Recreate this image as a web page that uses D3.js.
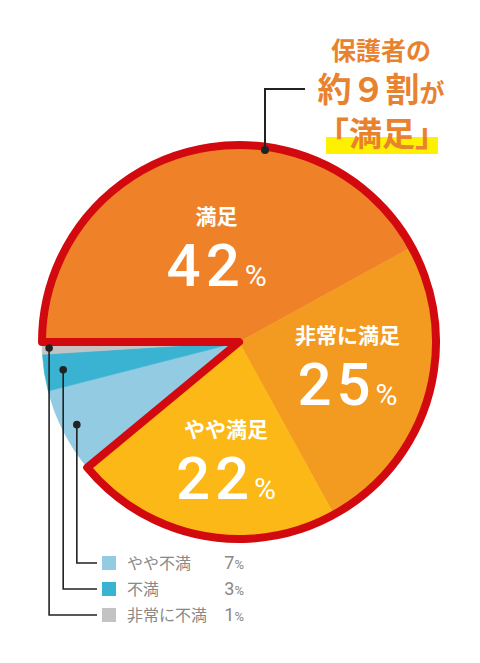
<!DOCTYPE html>
<html lang="ja">
<head>
<meta charset="utf-8">
<script src="https://cdn.jsdelivr.net/npm/d3@7"></script>
<style>
  html, body { margin: 0; padding: 0; background: #fff; }
  svg { display: block; }
  text { font-family: "Noto Sans CJK JP", sans-serif; }
</style>
</head>
<body>
<div id="chart"></div>
<script>
// Step 1: Data
// =================================
var categories = ["満足", "非常に満足", "やや満足", "やや不満", "不満", "非常に不満"];
var values     = [42, 25, 22, 7, 3, 1];
var colors     = ["#ef8228", "#f39a21", "#fbb816", "#93cbe3", "#3ab2d2", "#c3c3c3"];
var titleLines = ["保護者の", "約９割", "が", "「満足」"];
var satisfiedCount = 3;   // first three slices get the red outline

// Step 2: Layout
// =================================
var svgWidth  = 480;
var svgHeight = 663;
var cx = 239, cy = 342, radius = 197;
var labelR     = [90, 113, 128];  // label distance for the big slices
var labelShift = [0, 0, 11];      // small x nudge, as in the original
var leaderR    = [182, 178, 190]; // dot distance for the small slices

var data = categories.map(function(c, i) {
  return { name: c, value: values[i] };
});

var svg = d3.select("#chart")
  .append("svg")
  .attr("width", svgWidth)
  .attr("height", svgHeight);

var color = d3.scaleOrdinal()
  .domain(categories)
  .range(colors);

var pie = d3.pie()
  .sort(null)
  .value(d => d.value)
  .startAngle(-Math.PI / 2)
  .endAngle(Math.PI * 1.5);

var arcs = pie(data);
var arc = d3.arc().innerRadius(0).outerRadius(radius);

var chart = svg.append("g")
  .attr("transform", `translate(${cx}, ${cy})`);

// Step 3: Slices
// =================================
chart.append("g")
  .selectAll("path")
  .data(arcs)
  .enter().append("path")
  .attr("d", arc)
  .attr("fill", d => color(d.data.name))
  .attr("stroke", d => color(d.data.name))
  .attr("stroke-width", 0.6);

// red outline round the "satisfied" part
chart.append("path")
  .attr("d", arc({
    startAngle: arcs[0].startAngle,
    endAngle: arcs[satisfiedCount - 1].endAngle
  }))
  .attr("fill", "none")
  .attr("stroke", "#d20a10")
  .attr("stroke-width", 8)
  .attr("stroke-linejoin", "round");

// Step 4: Labels inside the big slices
// =================================
var labels = chart.append("g")
  .selectAll("g")
  .data(arcs.slice(0, satisfiedCount))
  .enter().append("g")
  .attr("transform", (d, i) => {
    var a = d3.arc().innerRadius(labelR[i]).outerRadius(labelR[i]).centroid(d);
    return `translate(${a[0] + labelShift[i]}, ${a[1]})`;
  });

labels.append("text")
  .attr("y", -31)
  .attr("text-anchor", "middle")
  .attr("fill", "#fff")
  .attr("font-size", 21)
  .attr("font-weight", 700)
  .text(d => d.data.name);

var num = labels.append("text")
  .attr("y", 31)
  .attr("text-anchor", "middle")
  .attr("fill", "#fff");
num.append("tspan")
  .attr("font-family", "Roboto")
  .attr("font-weight", 500)
  .attr("font-size", 60)
  .attr("letter-spacing", 5)
  .text(d => d.data.value);
num.append("tspan")
  .attr("font-family", "Roboto")
  .attr("font-weight", 400)
  .attr("font-size", 30)
  .text("%");

// Step 5: Leader lines and legend for the small slices
// =================================
var small = arcs.slice(satisfiedCount);
var legendX = 102, legendY = 563, rowH = 26, box = 14;

function leaderPoint(d, i) {
  return d3.arc().innerRadius(leaderR[i]).outerRadius(leaderR[i]).centroid(d);
}

var leaders = chart.append("g")
  .selectAll("g")
  .data(small)
  .enter().append("g");

leaders.append("path")
  .attr("fill", "none")
  .attr("stroke", "#222")
  .attr("stroke-width", 1.6)
  .attr("d", (d, i) => {
    var p = leaderPoint(d, i);
    var ly = legendY + rowH * i - cy;
    var lx = legendX - 5 - cx;
    return `M${p[0]},${p[1]}V${ly}H${lx}`;
  });

leaders.append("circle")
  .attr("r", 3.8)
  .attr("fill", "#222")
  .attr("cx", (d, i) => leaderPoint(d, i)[0])
  .attr("cy", (d, i) => leaderPoint(d, i)[1]);

var legend = svg.append("g")
  .selectAll("g")
  .data(small)
  .enter().append("g")
  .attr("transform", (d, i) => `translate(${legendX}, ${legendY + rowH * i})`);

legend.append("rect")
  .attr("x", 0)
  .attr("y", -box / 2)
  .attr("width", box)
  .attr("height", box)
  .attr("fill", d => color(d.data.name));

legend.append("text")
  .attr("x", 25)
  .attr("y", 6)
  .attr("fill", "#888")
  .attr("font-size", 16)
  .text(d => d.data.name);

var pct = legend.append("text")
  .attr("x", 142)
  .attr("y", 6)
  .attr("text-anchor", "end")
  .attr("fill", "#888");
pct.append("tspan")
  .attr("font-family", "Roboto")
  .attr("font-size", 18)
  .text(d => d.data.value);
pct.append("tspan")
  .attr("font-family", "Roboto")
  .attr("font-size", 13)
  .text("%");

// Step 6: Title and callout
// =================================
var titleX = 381;
var orange = "#e9822e";

svg.append("path")
  .attr("fill", "none")
  .attr("stroke", "#222")
  .attr("stroke-width", 2)
  .attr("d", "M265,150V89H305");
svg.append("circle")
  .attr("cx", 265)
  .attr("cy", 150)
  .attr("r", 4)
  .attr("fill", "#222");

svg.append("rect")
  .attr("x", 326)
  .attr("y", 137)
  .attr("width", 112)
  .attr("height", 17)
  .attr("fill", "#fff000");

svg.append("text")
  .attr("x", titleX)
  .attr("y", 60)
  .attr("text-anchor", "middle")
  .attr("fill", orange)
  .attr("font-size", 25)
  .attr("font-weight", 700)
  .text(titleLines[0]);

var line2 = svg.append("text")
  .attr("x", titleX)
  .attr("y", 102)
  .attr("text-anchor", "middle")
  .attr("fill", orange)
  .attr("font-weight", 700);
line2.append("tspan").attr("font-size", 34).text(titleLines[1]);
line2.append("tspan").attr("font-size", 25).text(titleLines[2]);

svg.append("text")
  .attr("x", titleX + 1)
  .attr("y", 146)
  .attr("text-anchor", "middle")
  .attr("fill", orange)
  .attr("font-size", 33)
  .attr("font-weight", 700)
  .text(titleLines[3]);
</script>
</body>
</html>
